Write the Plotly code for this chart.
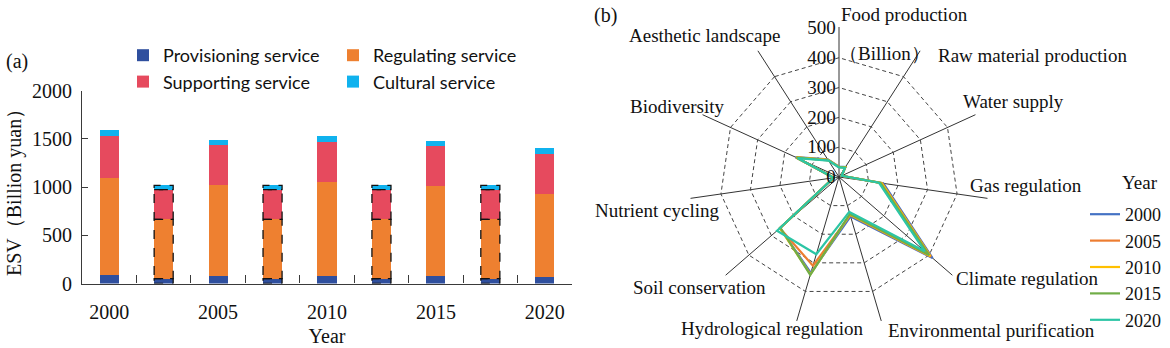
import plotly.graph_objects as go
import numpy as np

W, H = 1170, 348
OFF = 0  # body margin removed through post_script below

# ---------------- Panel (a) data ----------------
bar_slots = ["2000", "2000-2005", "2005", "2005-2010", "2010", "2010-2015", "2015", "2015-2020", "2020"]
year_ticks = ["2000", "2005", "2010", "2015", "2020"]
dashed_slot = [False, True, False, True, False, True, False, True, False]
provisioning = [84, 50, 78, 50, 79, 50, 73, 50, 72]
regulating = [1014, 615, 939, 615, 973, 615, 942, 615, 856]
supporting = [430, 307, 415, 307, 415, 307, 405, 307, 417]
cultural = [64, 45, 55, 45, 63, 45, 58, 45, 57]
service_names = ["Provisioning service", "Regulating service", "Supporting service", "Cultural service"]
service_colors = ["#2F4F9E", "#EE8030", "#E64A5E", "#10B2EE"]

# ---------------- Panel (b) data ----------------
categories = ["Food production", "Raw material production", "Water supply", "Gas regulation",
              "Climate regulation", "Environmental purification", "Hydrological regulation",
              "Soil conservation", "Nutrient cycling", "Biodiversity", "Aesthetic landscape"]
radar_years = ["2000", "2005", "2010", "2015", "2020"]
esv_2000 = [35, 40, 10, 150, 415, 138, 335, 262, 18, 160, 70]
esv_2005 = [34, 39, 10, 146, 408, 133, 310, 262, 18, 158, 67]
esv_2010 = [34, 39, 10, 144, 405, 131, 340, 262, 18, 158, 68]
esv_2015 = [33, 38, 10, 141, 400, 129, 342, 260, 18, 157, 66]
esv_2020 = [32, 36, 10, 135, 380, 122, 270, 275, 18, 152, 65]
radar_values = [esv_2000, esv_2005, esv_2010, esv_2015, esv_2020]
radar_colors = ["#4472C4", "#ED7D31", "#FFC000", "#70AD47", "#2CC5A5"]
radial_ticks = [0, 100, 200, 300, 400, 500]

SERIF = "Liberation Serif, Times New Roman, serif"
SANS = "Lato, Calibri, sans-serif"
AX = "#3a3a3a"


def px(x):
    return (x - OFF) / W


def py(y):
    return 1 - (y - OFF) / H


fig = go.Figure()

xpos = np.arange(len(bar_slots))
series = [provisioning, regulating, supporting, cultural]
legends = ["legend", "legend2", "legend", "legend2"]
BW = 0.35
for name, vals, col, lg in zip(service_names, series, service_colors, legends):
    fig.add_trace(go.Bar(x=xpos, y=vals, name=name, marker=dict(color=col, line=dict(width=0)),
                         width=BW, legend=lg, xaxis="x", yaxis="y"))

# dashed outlines for intermediate bars
ox, oy = [], []
cum = np.zeros(len(bar_slots))
for vals in series:
    v = np.array(vals, dtype=float)
    for i, d in enumerate(dashed_slot):
        if d:
            x0, x1 = xpos[i] - BW / 2, xpos[i] + BW / 2
            b, t = cum[i], cum[i] + v[i]
            ox += [x0, x1, x1, x0, x0, None]
            oy += [b, b, t, t, b, None]
    cum += v
fig.add_trace(go.Scatter(x=ox, y=oy, mode="lines", line=dict(color="#111", width=1.3, dash="dash"),
                         showlegend=False, hoverinfo="skip", xaxis="x", yaxis="y"))

# radar
for yr, vals, col in zip(radar_years, radar_values, radar_colors):
    fig.add_trace(go.Scatterpolar(r=vals + [vals[0]], theta=categories + [categories[0]], mode="lines",
                                  name=yr, line=dict(color=col, width=2.2), legend="legend3"))

xl, xr = 82, 572
yb, yt = 283.5, 90.5
cx, cy, R = 839, 177, 150
year_pos = [i for i, d in enumerate(dashed_slot) if not d]
fig.update_layout(
    width=W, height=H, margin=dict(l=0, r=0, t=0, b=0, autoexpand=False),
    paper_bgcolor="white", plot_bgcolor="white", barmode="stack",
    xaxis=dict(domain=[px(xl), px(xr)], range=[-0.5, 8.5], tickmode="array", tickvals=year_pos,
               ticktext=year_ticks, ticks="", showline=True, ticklabelstandoff=10,
               tickfont=dict(family=SERIF, size=20, color="#111"),
               minor=dict(tickmode="array", tickvals=list(xpos[:-1] + 0.5), ticks="inside", ticklen=8,
                          tickcolor=AX, showgrid=False),
               linecolor=AX, linewidth=1.2, showgrid=False, zeroline=False, anchor="y",
               title=dict(text="Year", font=dict(family=SERIF, size=20, color="#111"), standoff=7)),
    yaxis=dict(domain=[py(yb), py(yt)], range=[0, 2000], tickvals=[0, 500, 1000, 1500, 2000],
               ticks="inside", ticklen=6, tickcolor=AX, showline=True, linecolor=AX, linewidth=1.2,
               showgrid=False, zeroline=False, ticklabelstandoff=5,
               tickfont=dict(family=SERIF, size=20, color="#111")),
    polar=dict(
        domain=dict(x=[px(cx - R), px(cx + R)], y=[py(cy + R), py(cy - R)]),
        bgcolor="white", gridshape="linear",
        radialaxis=dict(range=[0, 503], tickvals=radial_ticks, angle=90, tickangle=90, side="counterclockwise",
                        showline=False, ticks="", gridcolor="#444", gridwidth=1, griddash="4px,3px",
                        tickfont=dict(family=SERIF, size=19, color="#111")),
        angularaxis=dict(direction="clockwise", rotation=90, showline=False, ticks="",
                         showticklabels=False, gridcolor="#333", gridwidth=1),
    ),
    legend=dict(x=px(123), y=py(37), xanchor="left", yanchor="top", bgcolor="rgba(0,0,0,0)",
                traceorder="normal", font=dict(family=SANS, size=18, color="#111"), tracegroupgap=0),
    legend2=dict(x=px(333), y=py(37), xanchor="left", yanchor="top", bgcolor="rgba(0,0,0,0)",
                 traceorder="normal", font=dict(family=SANS, size=18, color="#111"), tracegroupgap=0),
    legend3=dict(x=px(1085), y=py(196), xanchor="left", yanchor="top", bgcolor="rgba(0,0,0,0)",
                 font=dict(family=SERIF, size=18, color="#111")),
    showlegend=True,
)

# labels
label_pos = {
    "Food production": (904, 14), "Raw material production": (1032, 55), "Water supply": (1013, 101),
    "Gas regulation": (1026, 185), "Climate regulation": (1027, 278),
    "Environmental purification": (991, 330), "Hydrological regulation": (772, 328),
    "Soil conservation": (699, 287), "Nutrient cycling": (657, 210), "Biodiversity": (677, 106),
    "Aesthetic landscape": (704, 36),
}
for c in categories:
    x, y = label_pos[c]
    fig.add_annotation(x=px(x), y=py(y), xref="paper", yref="paper", text=c, showarrow=False,
                       xanchor="center", yanchor="middle", font=dict(family=SERIF, size=19, color="#111"))
extra = [("（Billion）", 884, 54, 19), ("(a)", 17, 62, 20), ("(b)", 605, 15, 20), ("Year", 1140, 182, 19)]
for t, x, y, fs in extra:
    fig.add_annotation(x=px(x), y=py(y), xref="paper", yref="paper", text=t, showarrow=False,
                       xanchor="center", yanchor="middle", font=dict(family=SERIF, size=fs, color="#111"))
fig.add_annotation(x=px(14), y=py(188), xref="paper", yref="paper", text="ESV（Billion yuan）",
                   textangle=-90, showarrow=False, xanchor="center", yanchor="middle",
                   font=dict(family=SERIF, size=20, color="#111"))

fig.write_html("out.html", config={"displayModeBar": False},
               post_script="document.body.style.margin='0px';")
